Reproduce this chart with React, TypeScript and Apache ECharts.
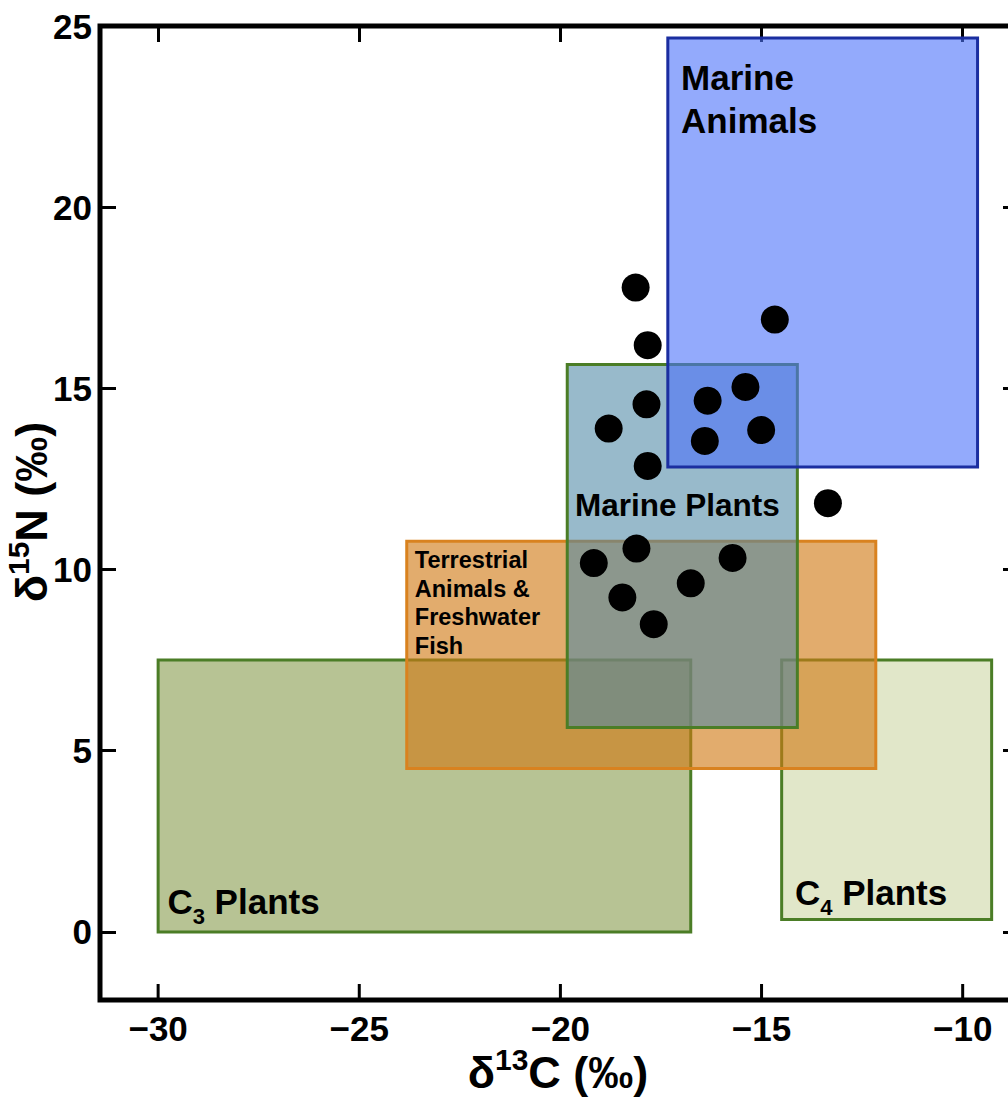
import { useEffect, useRef } from 'react';
import * as echarts from 'echarts';

const FONT = '"Liberation Sans", Arial, Helvetica, sans-serif';

// Individual samples: δ13C and δ15N (‰)
const sampleC13 = [-18.13, -17.83, -14.67, -17.86, -18.8, -16.34, -15.4, -16.41, -15.01, -17.83, -13.35, -18.11, -19.17, -15.72, -16.76, -18.46, -17.68];
const sampleN15 = [17.78, 16.19, 16.9, 14.56, 13.89, 14.66, 15.04, 13.55, 13.85, 12.86, 11.83, 10.58, 10.18, 10.32, 9.62, 9.23, 8.49];

// Axis extents and tick values
const c13Range = [-31.445, -8.6];
const n15Range = [-1.88, 25];
const c13Ticks = [-30, -25, -20, -15, -10];
const n15Ticks = [0, 5, 10, 15, 20, 25];

// Reference food-source boxes (‰), drawn in this order
const regionC13Low = [-30, -14.5, -23.82, -19.83, -17.33];
const regionC13High = [-16.76, -9.28, -12.16, -14.11, -9.63];
const regionN15Low = [0, 0.34, 4.51, 5.64, 12.83];
const regionN15High = [7.5, 7.5, 10.78, 15.66, 24.67];

// Box labels: [text] or [base, subscript, rest]; anchored at the left edge, vertically centred
const regionLabels = [
  ['C', '3', ' Plants'],
  ['C', '4', ' Plants'],
  ['Terrestrial\nAnimals &\nFreshwater\nFish'],
  ['Marine Plants'],
  ['Marine\nAnimals'],
];
const labelC13 = [-29.77, -14.17, -23.62, -19.64, -17.0];
const labelN15 = [0.83, 1.08, 9.07, 11.78, 22.99];

// Styling
const regionFill = ['#b7c394', '#e1e7c9', 'rgba(209,121,20,0.62)', 'rgba(77,136,165,0.58)', 'rgba(75,113,250,0.6)'];
const regionStroke = ['#4b7d26', '#4b7d26', '#d9821f', '#4b7d26', '#1b2ea0'];
const labelSize = [35, 35, 23.5, 31.5, 35];
const labelLineHeight = [42, 42, 28.5, 42, 42.5];
const TICK_LEN = 16;

let measureCtx: CanvasRenderingContext2D | null = null;
function textWidth(text: string, size: number): number {
  if (!measureCtx) measureCtx = document.createElement('canvas').getContext('2d');
  if (!measureCtx) return text.length * size * 0.6;
  measureCtx.font = `bold ${size}px ${FONT}`;
  return measureCtx.measureText(text).width;
}

function textEl(text: string, x: number, y: number, size: number, lineHeight?: number) {
  return {
    type: 'text',
    x,
    y,
    style: {
      text,
      font: `bold ${size}px ${FONT}`,
      fill: '#000',
      align: 'left',
      textAlign: 'left',
      verticalAlign: 'middle',
      textVerticalAlign: 'middle',
      lineHeight: lineHeight ?? Math.round(size * 1.2),
    },
  };
}

// δ + superscript isotope mass + remainder, centred on the group origin
function isotopeTitle(mass: string, tail: string, size: number, supSize: number) {
  const wD = textWidth('δ', size);
  const wS = textWidth(mass, supSize);
  const wT = textWidth(tail, size);
  const x0 = -(wD + wS + wT) / 2;
  return [
    textEl('δ', x0, 0, size),
    textEl(mass, x0 + wD, -size * 0.27, supSize),
    textEl(tail, x0 + wD + wS, 0, size),
  ];
}

const minus = (v: number) => (v < 0 ? '\u2212' + Math.abs(v) : String(v));

export default function App() {
  const ref = useRef<HTMLDivElement>(null);

  useEffect(() => {
    if (!ref.current) return;
    const chart = echarts.init(ref.current, undefined, { renderer: 'svg' });

    const tickStyle = { color: '#000', width: 3 };
    const labelStyle = { color: '#000', fontSize: 35, fontWeight: 'bold', fontFamily: FONT };

    const xBase = {
      type: 'value',
      min: c13Range[0],
      max: c13Range[1],
      splitLine: { show: false },
      axisLine: { show: false, onZero: false },
      axisTick: { show: true, inside: true, length: TICK_LEN, lineStyle: tickStyle, customValues: c13Ticks },
    };
    const yBase = {
      type: 'value',
      min: n15Range[0],
      max: n15Range[1],
      splitLine: { show: false },
      axisLine: { show: false, onZero: false },
      axisTick: { show: true, inside: true, length: TICK_LEN, lineStyle: tickStyle, customValues: n15Ticks },
    };

    const boxData = regionC13Low.map((v, i) => [v, regionC13High[i], regionN15Low[i], regionN15High[i]]);
    const labelData = labelC13.map((v, i) => [v, labelN15[i]]);
    const sampleData = sampleC13.map((v, i) => [v, sampleN15[i]]);
    const bottomTickData = c13Ticks.map((v) => [v, n15Range[0]]);

    chart.setOption({
      animation: false,
      backgroundColor: '#fff',
      grid: {
        left: 100,
        top: 26,
        width: 919,
        height: 974,
        show: true,
        borderColor: '#000',
        borderWidth: 5,
        backgroundColor: 'transparent',
      },
      xAxis: [
        {
          ...xBase,
          position: 'bottom',
          axisTick: { show: false },
          axisLabel: { ...labelStyle, margin: 11, customValues: c13Ticks, formatter: minus },
        },
        { ...xBase, position: 'top', axisLabel: { show: false } },
      ],
      yAxis: [
        {
          ...yBase,
          position: 'left',
          axisLabel: { ...labelStyle, margin: 8, customValues: n15Ticks, formatter: minus },
        },
        { ...yBase, position: 'right', axisLabel: { show: false } },
      ],
      graphic: [
        { type: 'group', x: 558, y: 1072, children: isotopeTitle('13', 'C (‰)', 45, 30) },
        { type: 'group', x: 31, y: 512, rotation: Math.PI / 2, children: isotopeTitle('15', 'N (‰)', 45, 30) },
      ],
      series: [
        {
          type: 'custom',
          name: 'sources',
          data: boxData,
          encode: { x: [0, 1], y: [2, 3] },
          z: 1,
          renderItem: (params: any, api: any) => {
            const i = params.dataIndex;
            const tl = api.coord([api.value(0), api.value(3)]);
            const br = api.coord([api.value(1), api.value(2)]);
            return {
              type: 'rect',
              shape: { x: tl[0], y: tl[1], width: br[0] - tl[0], height: br[1] - tl[1] },
              style: { fill: regionFill[i], stroke: regionStroke[i], lineWidth: 3 },
            };
          },
        },
        {
          type: 'custom',
          name: 'labels',
          data: labelData,
          encode: { x: 0, y: 1 },
          z: 2,
          renderItem: (params: any, api: any) => {
            const i = params.dataIndex;
            const p = api.coord([api.value(0), api.value(1)]);
            const parts = regionLabels[i];
            const size = labelSize[i];
            if (parts.length === 1) {
              return textEl(parts[0], p[0], p[1], size, labelLineHeight[i]);
            }
            const subSize = Math.round(size * 0.64);
            const w0 = textWidth(parts[0], size);
            const w1 = textWidth(parts[1], subSize);
            return {
              type: 'group',
              children: [
                textEl(parts[0], p[0], p[1], size),
                textEl(parts[1], p[0] + w0, p[1] + size * 0.42, subSize),
                textEl(parts[2], p[0] + w0 + w1, p[1], size),
              ],
            };
          },
        },
        {
          // inward tick marks along the bottom edge of the frame
          type: 'custom',
          name: 'bottomTicks',
          data: bottomTickData,
          encode: { x: 0, y: 1 },
          z: 10,
          silent: true,
          renderItem: (_params: any, api: any) => {
            const p = api.coord([api.value(0), api.value(1)]);
            return {
              type: 'rect',
              shape: { x: p[0] - 1.5, y: p[1] - TICK_LEN, width: 3, height: TICK_LEN },
              style: { fill: '#000' },
            };
          },
        },
        {
          type: 'scatter',
          name: 'samples',
          data: sampleData,
          symbol: 'circle',
          symbolSize: 28,
          itemStyle: { color: '#000', opacity: 1 },
          z: 3,
        },
      ],
    });

    return () => chart.dispose();
  }, []);

  return (
    <div style={{ position: 'fixed', left: 0, top: 0, width: 1008, height: 1099, overflow: 'hidden', background: '#fff' }}>
      <div ref={ref} style={{ width: 1030, height: 1099 }} />
    </div>
  );
}
